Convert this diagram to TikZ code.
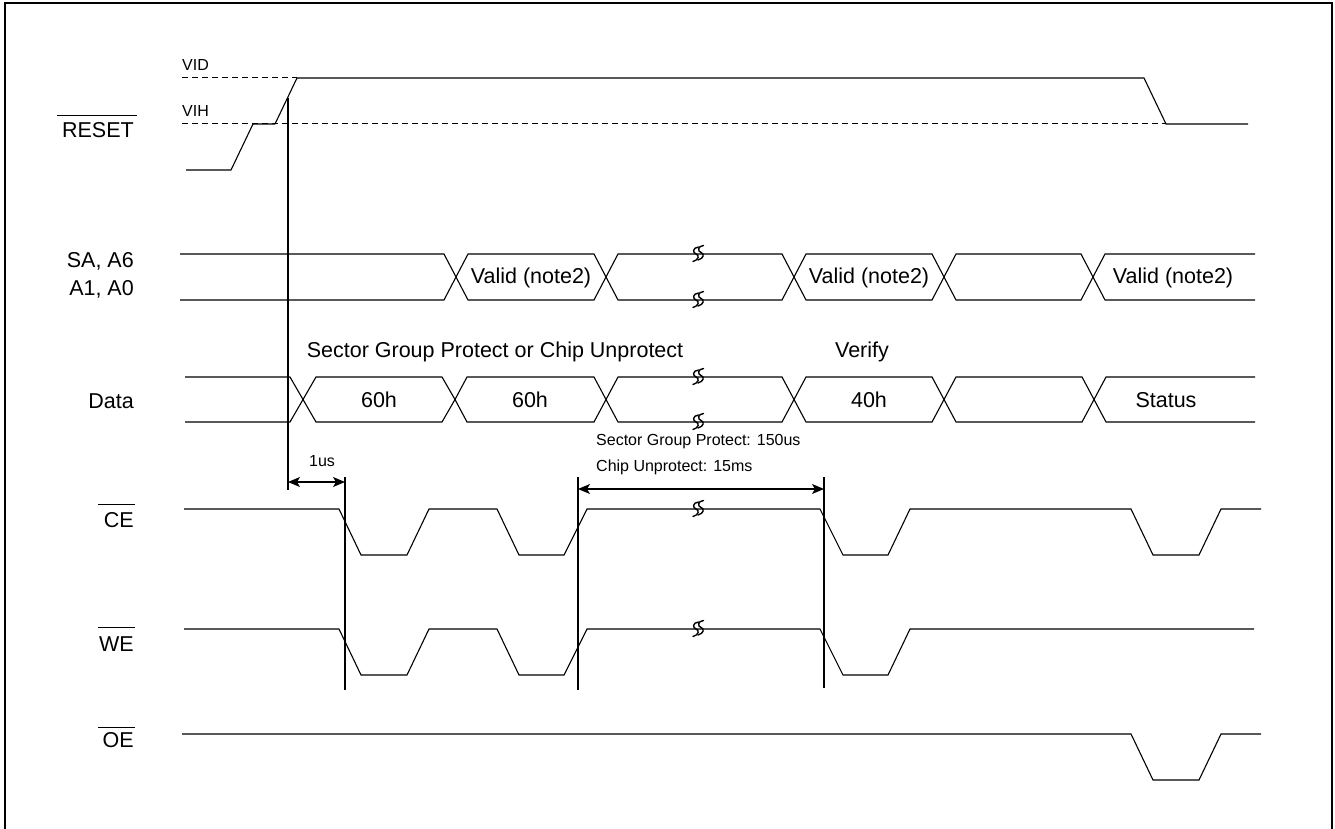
\documentclass[tikz,border=0pt]{standalone}
\usepackage{fontspec}
\setmainfont{Liberation Sans}
\usetikzlibrary{arrows.meta}
\tikzset{
  sig/.style={line width=1.1pt, line join=miter},
  lvl/.style={line width=1pt, dash pattern=on 6pt off 4pt},
  mark line/.style={line width=1.1pt},
  dim/.style={line width=1.1pt, {Stealth[length=12pt,width=10pt,inset=3pt]}-{Stealth[length=12pt,width=10pt,inset=3pt]}},
  big/.style={font=\fontsize{21.5}{24}\selectfont, inner sep=0pt},
  small/.style={font=\fontsize{16}{18}\selectfont, inner sep=0pt},
  brk/.style={line width=1.4pt, line cap=round},
  frame/.style={line width=2.5pt}
}
\newcommand\brkstroke[2]{%
  \draw[brk] (#1+3,#2-7) .. controls (#1-3,#2-6.5) and (#1-3,#2-1) .. (#1+0.5,#2) .. controls (#1+4,#2+1) and (#1+3.5,#2+6) .. (#1-2.5,#2+7.5);
}
\newcommand\brkmark[2]{%
  \brkstroke{#1-1.5}{#2}
  \brkstroke{#1+3.5}{#2-1.5}
}
% bus hexagon between crossing centres
\newcommand\bushex[5]{% x1 x2 ytop ybot h
  \draw[sig] (#1+#5,#3) -- (#2-#5,#3) -- (#2,{(#3+#4)/2}) -- (#2-#5,#4) -- (#1+#5,#4) -- (#1,{(#3+#4)/2}) -- cycle;
}
\begin{document}
\begin{tikzpicture}[x=1pt,y=-1pt]
\useasboundingbox (0,0) rectangle (1335,829);
% frame
\draw[frame] (5,832) -- (5,3) -- (1332,3) -- (1332,832);

% ---------- labels ----------
\node[big, anchor=east] (lreset) at (134,130) {RESET};
\draw[line width=1pt] (57,116) -- (137,116);
\node[big, anchor=east] (lsa) at (134,261) {SA, A6};
\node[big, anchor=east] (la1) at (134,289) {A1, A0};
\node[big, anchor=east] (ldata) at (134,401) {Data};
\node[big, anchor=east] (lce) at (134,520) {CE};
\draw[line width=1pt] (98,504) -- (135,504);
\node[big, anchor=east] (lwe) at (134,644) {WE};
\draw[line width=1pt] (98,627) -- (135,627);
\node[big, anchor=east] (loe) at (134,740) {OE};
\draw[line width=1pt] (98,727) -- (135,727);

% ---------- RESET ----------
\node[small, anchor=west] (vid) at (182,65) {VID};
\node[small, anchor=west] (vih) at (182,111) {VIH};
\draw[lvl] (182,78) -- (297,78);
\draw[lvl] (182,124) -- (1166,124);
\draw[sig] (186,170) -- (231,170) -- (253,124) -- (275,124) -- (297,78) -- (1144,78) -- (1166,124) -- (1248,124);

% ---------- SA, A6 / A1, A0 ----------
\draw[sig] (180,254) -- (444,254) -- (456,277) -- (444,300) -- (180,300);
\bushex{456}{606}{254}{300}{12}
\bushex{606}{794}{254}{300}{12}
\bushex{794}{944}{254}{300}{12}
\bushex{944}{1093}{254}{300}{12}
\draw[sig] (1255,254) -- (1105,254) -- (1093,277) -- (1105,300) -- (1255,300);
\node[big] (v1) at (531,278) {Valid (note2)};
\node[big] (v2) at (869,278) {Valid (note2)};
\node[big] (v3) at (1173,278) {Valid (note2)};
\brkmark{697}{254}
\brkmark{697}{300}

% ---------- Data ----------
\draw[sig] (185,377) -- (290,377) -- (303,399.5) -- (290,422) -- (185,422);
\bushex{303}{455}{377}{422}{13}
\bushex{455}{606}{377}{422}{12}
\bushex{606}{794}{377}{422}{12}
\bushex{794}{944}{377}{422}{12}
\bushex{944}{1094}{377}{422}{12}
\draw[sig] (1255,377) -- (1106,377) -- (1094,399.5) -- (1106,422) -- (1255,422);
\node[big] (d1) at (379,400) {60h};
\node[big] (d2) at (530,400) {60h};
\node[big] (d3) at (869,400) {40h};
\node[big] (d4) at (1166,400) {Status};
\node[big] (sgp) at (495,352) {Sector Group Protect or Chip Unprotect};
\node[big] (ver) at (862,352) {Verify};
\brkmark{697}{377}
\brkmark{697}{422}

% ---------- timing markers ----------
\coordinate (m0t) at (288,98);  \coordinate (m0b) at (288,490);
\coordinate (m1t) at (345,477); \coordinate (m1b) at (345,690);
\coordinate (m2t) at (578,477); \coordinate (m2b) at (578,690);
\coordinate (m3t) at (824,477); \coordinate (m3b) at (824,688);
\draw[mark line] (m0t) -- (m0b);
\draw[mark line] (m1t) -- (m1b);
\draw[mark line] (m2t) -- (m2b);
\draw[mark line] (m3t) -- (m3b);
\coordinate (a0) at (288,482); \coordinate (a1) at (345,482);
\coordinate (b0) at (578,489); \coordinate (b1) at (824,489);
\draw[dim] (a0) -- (a1);
\draw[dim] (b0) -- (b1);
\node[small] (t1us) at (322,461) {1us};
\node[small, anchor=west] (tsgp) at (596,442) {Sector Group Protect: 150us};
\node[small, anchor=west] (tcu) at (596,467) {Chip Unprotect: 15ms};

% ---------- CE ----------
\draw[sig] (184,509) -- (339,509) -- (361,555) -- (407,555) -- (429,509) -- (497,509) -- (519,555) -- (564,555) -- (587,509) -- (820,509) -- (843,555) -- (888,555) -- (910,509) -- (1131,509) -- (1153,555) -- (1199,555) -- (1221,509) -- (1261,509);
\brkmark{697}{509}

% ---------- WE ----------
\draw[sig] (184,629) -- (339,629) -- (361,675) -- (407,675) -- (429,629) -- (497,629) -- (519,675) -- (564,675) -- (587,629) -- (820,629) -- (843,675) -- (888,675) -- (910,629) -- (1254,629);
\brkmark{697}{629}

% ---------- OE ----------
\draw[sig] (182,734) -- (1131,734) -- (1153,780) -- (1199,780) -- (1221,734) -- (1261,734);
\end{tikzpicture}
\end{document}
